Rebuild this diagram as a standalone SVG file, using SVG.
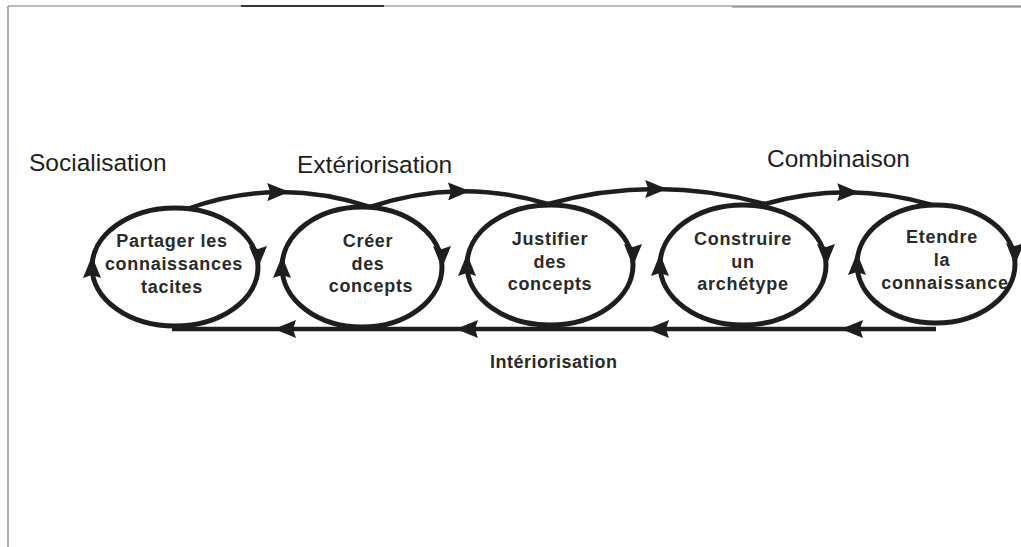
<svg xmlns="http://www.w3.org/2000/svg" width="1021" height="547" viewBox="0 0 1021 547">
  <defs>
    <!-- arrowhead centred on the vertex -->
    <marker id="head-mid" viewBox="0 0 22 18" refX="11" refY="9" markerWidth="22" markerHeight="18" markerUnits="userSpaceOnUse" orient="auto">
      <path d="M0,0 L22,9 L0,18 L3,9 Z" fill="#1e1e1e"/>
    </marker>
    <!-- arrowhead whose tip sits on the vertex -->
    <marker id="head-tip" viewBox="0 0 22 18" refX="21" refY="9" markerWidth="22" markerHeight="18" markerUnits="userSpaceOnUse" orient="auto">
      <path d="M0,0 L22,9 L0,18 L3,9 Z" fill="#1e1e1e"/>
    </marker>
  </defs>
  <style>
    .frame { fill: none; stroke: #7a7a7a; stroke-width: 1.2; }
    .frame-dark { fill: none; stroke: #333; stroke-width: 2; }
    .loop { fill: none; stroke: #1e1e1e; stroke-width: 5; marker-start: url(#head-mid); marker-mid: url(#head-tip); }
    .link { fill: none; stroke: #1e1e1e; stroke-width: 4.5; }
    .arc { marker-mid: url(#head-mid); }
    .back { marker-mid: url(#head-tip); }
    .phase { font-family: "Liberation Sans", Arial, sans-serif; font-size: 24.5px; fill: #1e1e1e; }
    .inner { font-family: "Liberation Sans", Arial, sans-serif; font-size: 18px; font-weight: bold; letter-spacing: 0.7px; fill: #2a2a2a; text-anchor: middle; }
    .inner-phase { font-family: "Liberation Sans", Arial, sans-serif; font-size: 18px; font-weight: bold; letter-spacing: 0.5px; fill: #2a2a2a; }
  </style>

  <rect width="1021" height="547" fill="#ffffff"/>

  <!-- frame: top and left edges only -->
  <g id="frame">
    <line class="frame" x1="8" y1="6" x2="1021" y2="6"/>
    <line class="frame-dark" x1="241" y1="6" x2="384" y2="6"/>
    <line class="frame" x1="732" y1="7" x2="1021" y2="7"/>
    <line class="frame" x1="8" y1="6" x2="8" y2="547"/>
  </g>

  <!-- phase labels -->
  <text class="phase" x="29" y="171">Socialisation</text>
  <text class="phase" x="297" y="173">Extériorisation</text>
  <text class="phase" x="767" y="167">Combinaison</text>
  <text class="inner-phase" x="490" y="368">Intériorisation</text>

  <!-- connectors between the cycles -->
  <g id="connectors">
    <path class="link arc" d="M187,209 Q232.5,192.5 278.25,192 Q324,191.5 370,207"/>
    <path class="link arc" d="M370,207 Q414.5,192 459,191.25 Q503.5,190.5 548,204"/>
    <path class="link arc" d="M548,204 Q602,189 656.25,189 Q710.5,189 765,204"/>
    <path class="link arc" d="M765,204 Q806.5,192 848.25,192.25 Q890,192.5 932,205"/>
    <path class="link back" d="M936,329 L842,329 L648,329 L457,329 L275,329 L172,329"/>
  </g>

  <g id="node-partager">
    <path class="loop" d="M92,267 A83,59 0 0 1 258,267 A83,59 0 0 1 92,267"/>
    <text class="inner" x="172" y="247">Partager les</text>
    <text class="inner" x="174" y="270">connaissances</text>
    <text class="inner" x="172" y="293">tacites</text>
  </g>

  <g id="node-creer">
    <path class="loop" d="M282,267 A80,60 0 0 1 442,267 A80,60 0 0 1 282,267"/>
    <text class="inner" x="368" y="247">Créer</text>
    <text class="inner" x="368" y="270">des</text>
    <text class="inner" x="371" y="292">concepts</text>
  </g>

  <g id="node-justifier">
    <path class="loop" d="M467,265 A83,60 0 0 1 633,265 A83,60 0 0 1 467,265"/>
    <text class="inner" x="550" y="245">Justifier</text>
    <text class="inner" x="550" y="268">des</text>
    <text class="inner" x="550" y="290">concepts</text>
  </g>

  <g id="node-construire">
    <path class="loop" d="M660,265 A83,60 0 0 1 826,265 A83,60 0 0 1 660,265"/>
    <text class="inner" x="743" y="245">Construire</text>
    <text class="inner" x="743" y="268">un</text>
    <text class="inner" x="743" y="290">archétype</text>
  </g>

  <g id="node-etendre">
    <path class="loop" d="M857,264 A79,59 0 0 1 1015,264 A79,59 0 0 1 857,264"/>
    <text class="inner" x="942" y="243">Etendre</text>
    <text class="inner" x="942" y="266">la</text>
    <text class="inner" x="945" y="289">connaissance</text>
  </g>
</svg>
